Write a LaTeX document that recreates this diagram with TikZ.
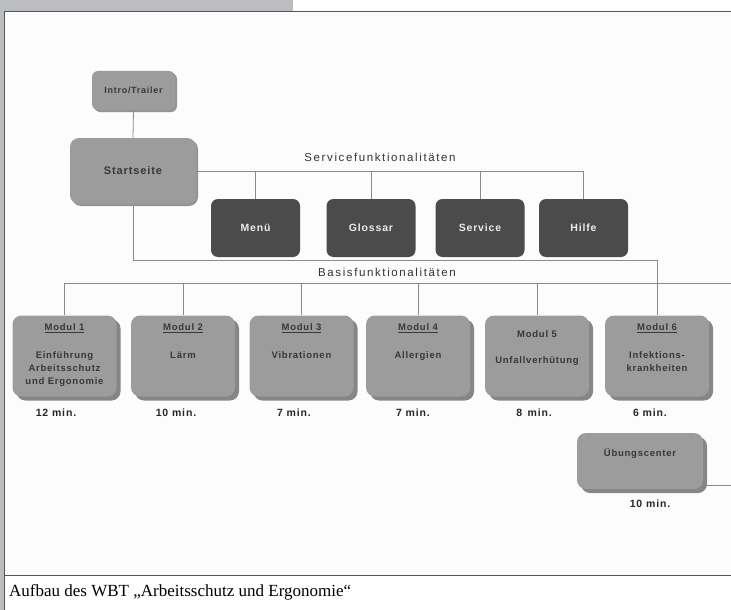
\documentclass[tikz,border=0pt]{standalone}
\usepackage{fontspec}
\setmainfont{Liberation Serif}
\newfontfamily\boxfont[LetterSpace=8]{Liberation Sans}
\newfontfamily\spacedfont[LetterSpace=14]{Liberation Sans}
\usetikzlibrary{shadows}
\definecolor{bandgray}{HTML}{BCBDC1}
\definecolor{framegray}{HTML}{555555}
\definecolor{boxgray}{HTML}{9C9C9C}
\definecolor{darkbox}{HTML}{4B4B4B}
\definecolor{shadowgray}{HTML}{7A7A7A}
\definecolor{linegray}{HTML}{8A8A8A}
\tikzset{
  lightbox/.style={draw=none, fill=boxgray, rounded corners=6pt, inner sep=0pt,
    drop shadow={shadow xshift=2pt, shadow yshift=-2pt, fill=shadowgray, opacity=0.8}},
  darkboxst/.style={draw=none, fill=darkbox, rounded corners=7pt, inner sep=0pt,
    text=white!92!black, font=\boxfont\bfseries\fontsize{10.5}{12}\selectfont,
    minimum width=89pt, minimum height=58pt},
  modbox/.style={draw=none, fill=boxgray, rounded corners=9pt, inner sep=0pt,
    minimum width=104pt, minimum height=81pt,
    drop shadow={shadow xshift=4pt, shadow yshift=-4pt, fill=shadowgray, opacity=0.9}},
  modtext/.style={anchor=north, align=center, inner sep=0pt,
    font=\boxfont\bfseries\fontsize{9.5}{13}\selectfont, text=black!78},
  timetext/.style={inner sep=0pt, font=\boxfont\bfseries\fontsize{10.5}{12}\selectfont, text=black!85},
  boxlabel/.style={font=\boxfont\bfseries\fontsize{11}{12}\selectfont, text=black!78},
  conn/.style={draw=linegray, line width=0.8pt},
  grouplabel/.style={inner sep=0pt, font=\spacedfont\fontsize{11.5}{13}\selectfont, text=black!80}
}
\begin{document}
\begin{tikzpicture}[x=1pt,y=-1pt]
\useasboundingbox (0,0) rectangle (731,610);
% frame
\fill[white] (0,0) rectangle (731,610);
\fill[bandgray] (0,0) rectangle (293,11);
\fill[bandgray] (0,0) rectangle (4,610);
\fill[black!1] (5,12) rectangle (731,575);
\draw[framegray, line width=1.2pt] (731,11.5) -- (4.5,11.5) -- (4.5,610);
\draw[framegray, line width=1pt] (4.5,575) -- (731,575);
\coordinate (R) at (731,0);
\node[anchor=west, inner sep=0pt, font=\fontsize{17}{20}\selectfont] (caption) at (9,592) {Aufbau des WBT „Arbeitsschutz und Ergonomie“};

% top boxes
\node[lightbox, minimum width=83pt, minimum height=39pt, boxlabel, font=\boxfont\bfseries\fontsize{9}{10}\selectfont] (intro) at (133.5,90.5) {Intro/Trailer};
\node[lightbox, minimum width=126pt, minimum height=66pt, boxlabel, rounded corners=9pt] (start) at (133,171) {Startseite};
\node[darkboxst] (menu) at (255.5,228) {Menü};
\node[darkboxst] (glossar) at (371,228) {Glossar};
\node[darkboxst] (service) at (480,228) {Service};
\node[darkboxst] (hilfe) at (583.5,228) {Hilfe};

\node[grouplabel] (servlbl) at (380,157) {Servicefunktionalitäten};
\node[grouplabel] (baslbl) at (387,272) {Basisfunktionalitäten};

% modules
\node[modbox] (m1) at (64.5,356) {};
\node[modbox] (m2) at (183,356) {};
\node[modbox] (m3) at (301.5,356) {};
\node[modbox] (m4) at (418,356) {};
\node[modbox] (m5) at (537,356) {};
\node[modbox] (m6) at (657,356) {};
\node[modtext] (m1t) at ([yshift=-8pt]m1.north) {\underline{Modul 1}\\[15pt]Einführung\\Arbeitsschutz\\und Ergonomie};
\node[modtext] (m2t) at ([yshift=-8pt]m2.north) {\underline{Modul 2}\\[15pt]Lärm};
\node[modtext] (m3t) at ([yshift=-8pt]m3.north) {\underline{Modul 3}\\[15pt]Vibrationen};
\node[modtext] (m4t) at ([yshift=-8pt]m4.north) {\underline{Modul 4}\\[15pt]Allergien};
\node[modtext] (m5t) at ([yshift=-15pt]m5.north) {Modul 5\\[13pt]Unfallverhütung};
\node[modtext] (m6t) at ([yshift=-8pt]m6.north) {\underline{Modul 6}\\[15pt]Infektions-\\krankheiten};

\node[timetext] (t1) at (56,413) {12 min.};
\node[timetext] (t2) at (176,413) {10 min.};
\node[timetext] (t3) at (294,413) {7 min.};
\node[timetext] (t4) at (413,413) {7 min.};
\node[timetext] (t5) at (534,413) {8 \,min.};
\node[timetext] (t6) at (650,413) {6 min.};

\node[modbox, minimum width=126pt, minimum height=56pt] (ueb) at (640,461) {};
\node[modtext] (uebt) at ([yshift=-15pt]ueb.north) {Übungscenter};
\node[timetext] (t7) at (650,504) {10 min.};

% connectors
\draw[conn] (intro.south) -- (start.north);
\coordinate (sy) at (0,171);
\draw[conn] (start.east |- sy) -- (hilfe.north |- sy);
\draw[conn] (menu.north) -- (menu.north |- sy);
\draw[conn] (glossar.north) -- (glossar.north |- sy);
\draw[conn] (service.north) -- (service.north |- sy);
\draw[conn] (hilfe.north) -- (hilfe.north |- sy);
\coordinate (by1) at (0,260);
\coordinate (by2) at (0,283);
\draw[conn] (start.south) -- (start.south |- by1) -- (m6.north |- by1) -- (m6.north);
\draw[conn] (m1.north |- by2) -- (R |- by2);
\foreach \m in {m1,m2,m3,m4,m5}{
  \draw[conn] (\m.north) -- (\m.north |- by2);
}
\coordinate (uy) at (0,485);
\draw[conn] (ueb.east |- uy) -- (R |- uy);
\end{tikzpicture}
\end{document}
